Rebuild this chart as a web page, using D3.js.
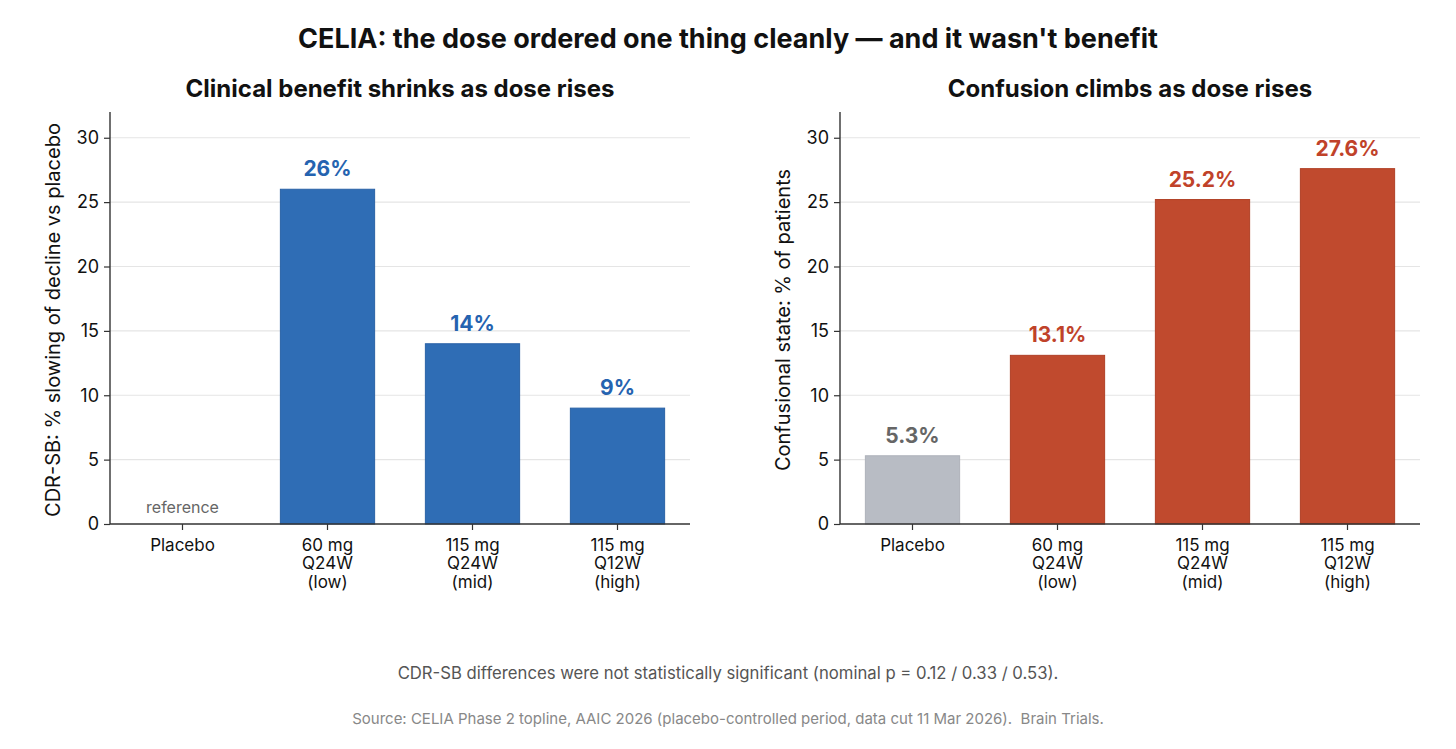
<!DOCTYPE html>
<html>
<head>
<meta charset="utf-8">
<script src="https://cdn.jsdelivr.net/npm/d3@7"></script>
<style>
  body { margin: 0; background: #fff; font-family: Inter, "Noto Sans", sans-serif; }
  svg text { font-family: Inter, "Noto Sans", sans-serif; }
</style>
</head>
<body>
<div id="chart"></div>
<script>
const width = 1456;
const height = 749;

// data
const doses = ["Placebo", "60 mg\nQ24W\n(low)", "115 mg\nQ24W\n(mid)", "115 mg\nQ12W\n(high)"];
const benefit = [null, 26, 14, 9];
const benefitLabels = ["", "26%", "14%", "9%"];
const confusion = [5.3, 13.1, 25.2, 27.6];
const confusionLabels = ["5.3%", "13.1%", "25.2%", "27.6%"];
const yTicks = [0, 5, 10, 15, 20, 25, 30];

const svg = d3.select("#chart")
    .append("svg")
    .attr("width", width)
    .attr("height", height);

svg.append("text")
    .attr("x", width / 2)
    .attr("y", 48)
    .attr("text-anchor", "middle")
    .attr("font-size", 27)
    .attr("font-weight", 700)
    .attr("fill", "#111")
    .text("CELIA: the dose ordered one thing cleanly \u2014 and it wasn't benefit");

const plotTop = 112, plotBottom = 524;

function drawPanel(opts) {
    const x = d3.scaleBand()
        .domain(doses)
        .range([opts.left, opts.left + 580])
        .paddingInner(0.35)
        .paddingOuter(0.175);

    const y = d3.scaleLinear()
        .domain([0, 32])
        .range([plotBottom, plotTop]);

    const g = svg.append("g");

    // grid
    g.selectAll(".grid")
        .data(yTicks.filter(d => d > 0))
        .join("line")
        .attr("x1", opts.left)
        .attr("x2", opts.left + 580)
        .attr("y1", d => y(d))
        .attr("y2", d => y(d))
        .attr("stroke", "#e5e5e5")
        .attr("stroke-width", 1.2);

    // bars
    const rows = doses.map((d, i) => ({ dose: d, value: opts.values[i], label: opts.labels[i], i: i }));
    g.selectAll(".bar")
        .data(rows.filter(d => d.value != null))
        .join("rect")
        .attr("x", d => x(d.dose))
        .attr("width", x.bandwidth())
        .attr("y", d => y(d.value))
        .attr("height", d => y(0) - y(d.value))
        .attr("fill", d => opts.fill(d.i))
        .attr("stroke", d => opts.edge(d.i))
        .attr("stroke-width", 1);

    g.selectAll(".val")
        .data(rows.filter(d => d.value != null))
        .join("text")
        .attr("x", d => x(d.dose) + x.bandwidth() / 2)
        .attr("y", d => y(d.value) - 13)
        .attr("text-anchor", "middle")
        .attr("font-size", 21)
        .attr("font-weight", 700)
        .attr("fill", d => opts.textColor(d.i))
        .text(d => d.label);

    // axes
    const yAxis = g.append("g")
        .attr("transform", `translate(${opts.left},0)`)
        .call(d3.axisLeft(y).tickValues(yTicks).tickSize(6).tickPadding(5));
    yAxis.select(".domain").attr("stroke", "#333").attr("stroke-width", 1.4)
        .attr("d", `M0,${plotTop}V${plotBottom}`);
    yAxis.selectAll(".tick line").attr("stroke", "#333").attr("stroke-width", 1.2);
    yAxis.selectAll(".tick text").attr("font-size", 18).attr("fill", "#111");

    const xAxis = g.append("g")
        .attr("transform", `translate(0,${plotBottom})`)
        .call(d3.axisBottom(x).tickSize(6).tickPadding(9));
    xAxis.select(".domain").attr("stroke", "#333").attr("stroke-width", 1.4)
        .attr("d", `M${opts.left},0H${opts.left + 580}`);
    xAxis.selectAll(".tick line").attr("stroke", "#333").attr("stroke-width", 1.2);
    xAxis.selectAll(".tick text").each(function(d) {
        const t = d3.select(this);
        t.text(null).attr("font-size", 17).attr("fill", "#111");
        d.split("\n").forEach((line, k) => {
            t.append("tspan")
                .attr("x", 0)
                .attr("dy", k === 0 ? "0.71em" : "1.08em")
                .text(line);
        });
    });

    // y label
    svg.append("text")
        .attr("transform", `translate(${opts.left - 50},${(plotTop + plotBottom) / 2 + 2}) rotate(-90)`)
        .attr("text-anchor", "middle")
        .attr("font-size", 20)
        .attr("fill", "#111")
        .text(opts.yLabel);

    // panel title
    svg.append("text")
        .attr("x", opts.left + 290)
        .attr("y", 97)
        .attr("text-anchor", "middle")
        .attr("font-size", 24)
        .attr("font-weight", 700)
        .attr("fill", "#111")
        .text(opts.title);

    return { x, y, g };
}

const left = drawPanel({
    left: 110,
    values: benefit,
    labels: benefitLabels,
    fill: () => "#2f6db5",
    edge: () => "#2a62a6",
    textColor: () => "#2563b0",
    yLabel: "CDR-SB: % slowing of decline vs placebo",
    title: "Clinical benefit shrinks as dose rises"
});

left.g.append("text")
    .attr("x", left.x(doses[0]) + left.x.bandwidth() / 2)
    .attr("y", left.y(0) - 11)
    .attr("text-anchor", "middle")
    .attr("font-size", 16)
    .attr("fill", "#666")
    .text("reference");

drawPanel({
    left: 840,
    values: confusion,
    labels: confusionLabels,
    fill: i => i === 0 ? "#b8bcc4" : "#c04a2e",
    edge: i => i === 0 ? "#aeb2ba" : "#b03f25",
    textColor: i => i === 0 ? "#666" : "#c0422a",
    yLabel: "Confusional state: % of patients",
    title: "Confusion climbs as dose rises"
});

svg.append("text")
    .attr("x", width / 2)
    .attr("y", 679)
    .attr("text-anchor", "middle")
    .attr("font-size", 16.7)
    .attr("fill", "#555")
    .text("CDR-SB differences were not statistically significant (nominal p = 0.12 / 0.33 / 0.53).");

svg.append("text")
    .attr("x", width / 2)
    .attr("y", 724)
    .attr("text-anchor", "middle")
    .attr("font-size", 15)
    .attr("fill", "#888")
    .style("white-space", "pre")
    .text("Source: CELIA Phase 2 topline, AAIC 2026 (placebo-controlled period, data cut 11 Mar 2026).  Brain Trials.");
</script>
</body>
</html>
